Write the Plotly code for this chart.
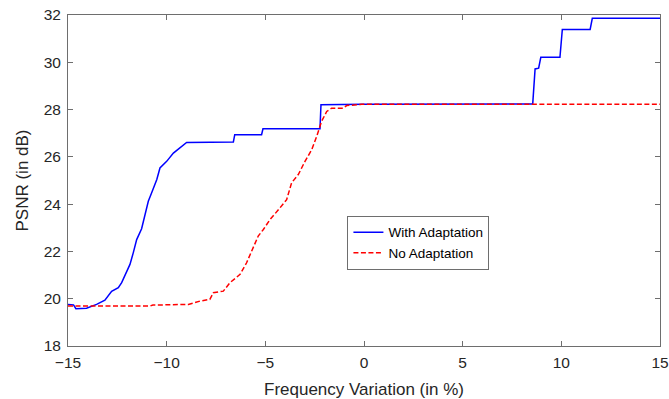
import plotly.graph_objects as go

# With Adaptation (blue)
with_x = [-15.0, -14.72, -14.6, -14.06, -13.55, -13.13, -12.79, -12.45, -12.28, -12.03,
          -11.86, -11.69, -11.52, -11.27, -11.1, -10.93, -10.76, -10.5, -10.34, -10.0,
          -9.66, -9.32, -8.99, -6.62, -6.55, -5.19, -5.12, -2.23, -2.18, 0.0, 8.55, 8.67,
          8.85, 8.96, 9.93, 10.05, 11.46, 11.57, 15.0]
with_y = [19.76, 19.74, 19.58, 19.6, 19.76, 19.94, 20.31, 20.47, 20.68, 21.1,
          21.45, 21.95, 22.5, 22.96, 23.49, 24.12, 24.48, 25.04, 25.53, 25.81,
          26.16, 26.4, 26.61, 26.63, 26.94, 26.94, 27.19, 27.19, 28.2, 28.22, 28.24, 29.72,
          29.75, 30.21, 30.21, 31.39, 31.39, 31.86, 31.86]

# No Adaptation (red dashed)
no_x = [-15.0, -10.84, -10.7, -8.9, -8.31, -7.81, -7.64, -7.13, -6.79, -6.28,
        -5.95, -5.69, -5.36, -5.1, -4.76, -4.26, -3.92, -3.67, -3.33, -2.99,
        -2.65, -2.4, -2.15, -1.89, -1.64, -1.05, -0.88, -0.12, 15.0]
no_y = [19.69, 19.69, 19.73, 19.76, 19.9, 19.97, 20.25, 20.32, 20.68, 21.03,
        21.52, 22.01, 22.65, 22.93, 23.35, 23.84, 24.19, 24.9, 25.25, 25.81,
        26.3, 26.86, 27.5, 27.92, 28.06, 28.06, 28.17, 28.22, 28.22]

x_ticks = [-15, -10, -5, 0, 5, 10, 15]
y_ticks = [18, 20, 22, 24, 26, 28, 30, 32]

fig = go.Figure()
fig.add_trace(go.Scatter(x=with_x, y=with_y, mode="lines", name="With Adaptation",
                         line=dict(color="#0000FF", width=1.5)))
fig.add_trace(go.Scatter(x=no_x, y=no_y, mode="lines", name="No Adaptation",
                         line=dict(color="#FF0000", width=1.5, dash="5px,2.5px")))

axis_common = dict(showgrid=False, zeroline=False, showline=True, linecolor="#6e6e6e",
                   linewidth=1, mirror="ticks", ticks="inside", ticklen=5,
                   tickcolor="#6e6e6e", automargin=False, ticklabeloverflow="allow",
                   tickfont=dict(size=15.5, color="#262626"))

fig.update_layout(
    width=669, height=399,
    margin=dict(l=68, r=9, t=15, b=53),
    paper_bgcolor="white", plot_bgcolor="white",
    font=dict(family="Liberation Sans, Arial, sans-serif", color="#262626"),
    xaxis=dict(range=[-15, 15], tickvals=x_ticks, ticklabelstandoff=2,
               title=dict(text="Frequency Variation (in %)", font=dict(size=17), standoff=24),
               **axis_common),
    yaxis=dict(range=[18, 32], tickvals=y_ticks, ticklabelstandoff=3,
               title=dict(text="PSNR (in dB)", font=dict(size=17), standoff=10),
               **axis_common),
    legend=dict(x=0.472, y=0.393, xanchor="left", yanchor="top",
                bgcolor="white", bordercolor="#6e6e6e", borderwidth=1,
                font=dict(size=13.5, color="#000000"), itemwidth=30,
                tracegroupgap=0),
    showlegend=True,
)

fig.write_html("out.html", config={"displayModeBar": False},
               post_script="document.body.style.margin='0';document.body.style.overflow='hidden';")
